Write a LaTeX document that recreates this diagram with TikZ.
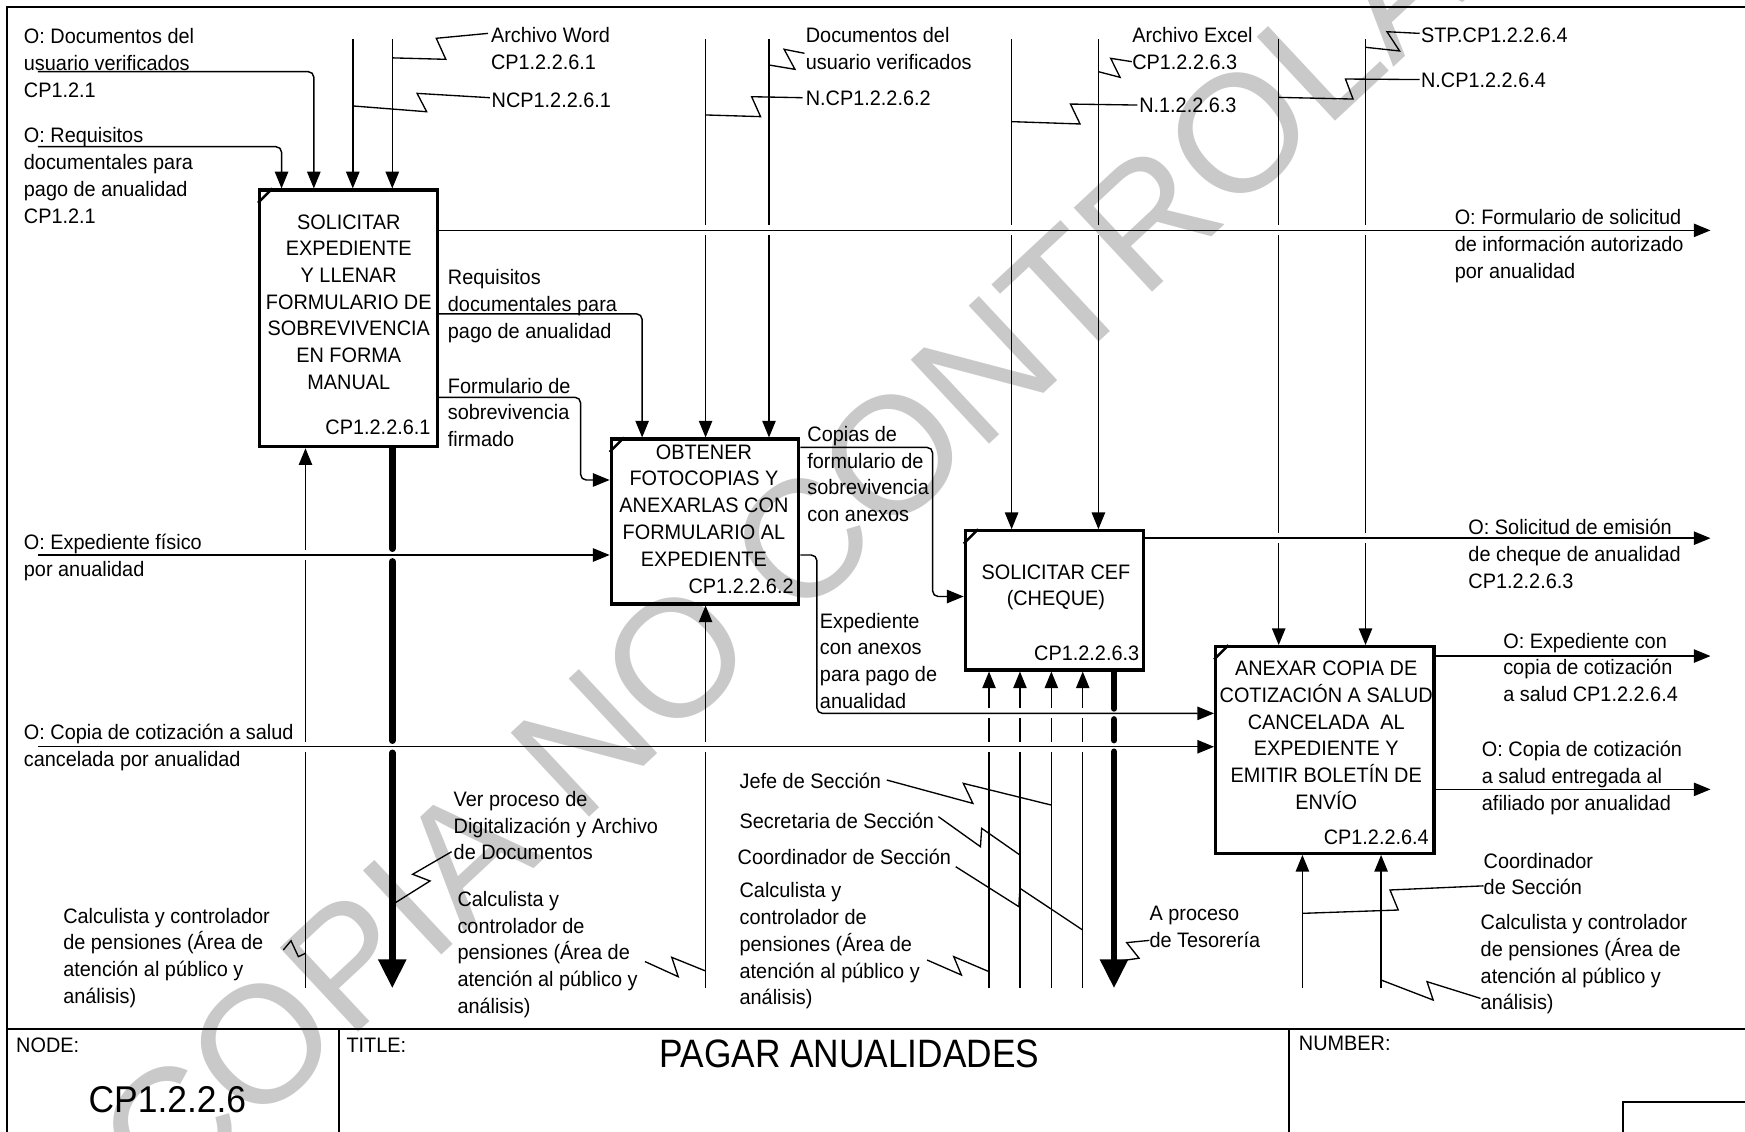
\documentclass[tikz,border=0pt]{standalone}
\usepackage{fontspec}
\setmainfont{Liberation Sans}[FakeStretch=0.95]
\newfontfamily\titlefont{Liberation Sans}[FakeStretch=0.89]
\newfontfamily\wmfont{Liberation Sans}
\usetikzlibrary{arrows.meta}
\newcommand\fs{\fontsize{18.8}{24}\selectfont}
\begin{document}
\begin{tikzpicture}[x=1pt,y=-1pt,
  ln/.style={line width=1.3pt},
  arr/.style={line width=1.3pt,-{Triangle[length=15pt,width=12pt]}},
  rarr/.style={arr, rounded corners=5pt},
  thk/.style={line width=6pt, line cap=round},
  thkarr/.style={line width=6pt, line cap=round, -{Triangle[length=26pt,width=24pt]}},
  box/.style={draw, line width=2.8pt, inner sep=0pt},
  lbl/.style={font=\fs, align=left, inner sep=0pt, anchor=north west},
  ctr/.style={font=\fs, align=center, inner sep=0pt, anchor=north},
  idl/.style={font=\fs, inner sep=0pt, anchor=north east},
  sq/.style={line width=1.2pt},
  frm/.style={line width=1.7pt},
]
\useasboundingbox (0,0) rectangle (1568,1017);
\clip (0,0) rectangle (1568,1017);
\fill[white] (0,0) rectangle (1568,1017);

% watermark
\node[rotate=43, text=black!21, font=\wmfont\fontsize{150}{150}\selectfont, inner sep=0pt] (wm) at (778,432) {COPIA NO CONTROLADA};

% frame
\draw[frm] (6.3,1030) -- (6.3,6.3) -- (1580,6.3);
\draw[frm] (6.3,925) -- (1580,925);
\draw[frm] (304.3,925) -- (304.3,1030);
\draw[frm] (1158,925) -- (1158,1030);
\draw[frm] (1458,1030) |- (1580,990);

% boxes
\node[box, minimum width=159.8pt, minimum height=230.7pt] (b1) at (313.1,286.05) {};
\node[box, minimum width=168.5pt, minimum height=148.2pt] (b2) at (633.45,468.6) {};
\node[box, minimum width=159.9pt, minimum height=125.1pt] (b3) at (947.25,539.45) {};
\node[box, minimum width=196.2pt, minimum height=185.8pt] (b4) at (1190.4,673.9) {};
\foreach \b in {b1,b2,b3,b4}
  \draw[line width=2.2pt] ([yshift=-13pt]\b.north west) -- ([xshift=13pt]\b.north west);

% box texts
\node[ctr] (bt1) at (313.4,192.5) {SOLICITAR\\EXPEDIENTE\\Y LLENAR\\FORMULARIO DE\\SOBREVIVENCIA\\EN FORMA\\MANUAL};
\node[idl] (id1) at (387,376.8) {CP1.2.2.6.1};
\node[ctr] (bt2) at (632.5,399.3) {OBTENER\\FOTOCOPIAS Y\\ANEXARLAS CON\\FORMULARIO AL\\EXPEDIENTE};
\node[idl] (id2) at (713.3,520) {CP1.2.2.6.2};
\node[ctr] (bt3) at (948.8,507) {SOLICITAR CEF\\(CHEQUE)};
\node[idl] (id3) at (1023.8,580.4) {CP1.2.2.6.3};
\node[ctr] (bt4) at (1191.7,593.9) {ANEXAR COPIA DE\\COTIZACIÓN A SALUD\\CANCELADA\ \ AL\\EXPEDIENTE Y\\EMITIR BOLETÍN DE\\ENVÍO};
\node[idl] (id4) at (1284,745.2) {CP1.2.2.6.4};

% top controls
\draw[arr] (317,35) -- (317,0 |- b1.north);
\draw[arr] (352.5,35) -- (352.5,0 |- b1.north);
\foreach \x in {634,691} {
  \draw[ln] (\x,35) -- (\x,202.5);
  \draw[arr] (\x,211.5) -- (\x,0 |- b2.north);
}
\foreach \x in {909,987} {
  \draw[ln] (\x,35) -- (\x,202.5);
  \draw[arr] (\x,211.5) -- (\x,0 |- b3.north);
}
\foreach \x in {1149,1227} {
  \draw[ln] (\x,35) -- (\x,202.5);
  \draw[ln] (\x,211.5) -- (\x,479.1);
  \draw[arr] (\x,488.1) -- (\x,0 |- b4.north);
}

% left inputs turning down into box 1
\draw[rarr] (34,64.4) -- (282,64.4) -- (282,0 |- b1.north);
\draw[rarr] (34,131.8) -- (253,131.8) -- (253,0 |- b1.north);

% mechanisms
\draw[ln] (274.5,888) -- (274.5,675.5);
\draw[ln] (274.5,666.5) -- (274.5,503.2);
\draw[arr] (274.5,494.2) -- (274.5,0 |- b1.south);
\draw[ln] (634,888) -- (634,675.5);
\draw[arr] (634,666.5) -- (634,0 |- b2.south);
\foreach \x in {888.7,916.5,944.7,972.9} {
  \draw[ln] (\x,888) -- (\x,675.5);
  \draw[ln] (\x,666.5) -- (\x,645.5);
  \draw[arr] (\x,636.5) -- (\x,0 |- b3.south);
}
\draw[arr] (1170.3,888) -- (1170.3,0 |- b4.south);
\draw[arr] (1241,888) -- (1241,0 |- b4.south);

% thick outputs
\draw[thk] (352.5,0 |- b1.south) -- (352.5,493);
\draw[thk] (352.5,504.5) -- (352.5,665.5);
\draw[thkarr] (352.5,676.5) -- (352.5,888);
\draw[thk] (1001,0 |- b3.south) -- (1001,636.5);
\draw[thk] (1001,646.5) -- (1001,665);
\draw[thkarr] (1001,675.5) -- (1001,888);

% horizontal flows
\draw[arr] (b1.east |- 0,207) -- (1537,207);
\draw[rarr] (b1.east |- 0,282) -- (577,282) -- (577,0 |- b2.north);
\draw[rarr] (b1.east |- 0,357) -- (521.7,357) -- (521.7,431.3) -- (b2.west |- 0,431.3);
\draw[arr] (34,498.7) -- (b2.west |- 0,498.7);
\draw[rarr] (b2.east |- 0,402) -- (838,402) -- (838,536) -- (b3.west |- 0,536);
\draw[rarr] (b2.east |- 0,498.7) -- (734,498.7) -- (734,641) -- (b4.west |- 0,641);
\draw[arr] (b3.east |- 0,483.6) -- (1537,483.6);
\draw[arr] (34,671) -- (b4.west |- 0,671);
\draw[arr] (b4.east |- 0,589.5) -- (1537,589.5);
\draw[arr] (b4.east |- 0,709.3) -- (1537,709.3);

% squiggles
\draw[sq] (352.5,52) -- (400.6,53.3) -- (392,34.4) -- (438.5,30);
\draw[sq] (317,95.2) -- (383.4,100.4) -- (374.8,83.9) -- (440.2,87.8);
\draw[sq] (691,58.4) -- (714.3,62.3) -- (704.6,44.3) -- (722.9,47.9);
\draw[sq] (634,103.3) -- (683.4,104.8) -- (675.4,86.9) -- (721.2,87.8);
\draw[sq] (987,64.4) -- (1006.5,69.5) -- (998,52.4) -- (1017,55.4);
\draw[sq] (909,109.3) -- (970.5,111.4) -- (961.9,93.5) -- (1022,94.4);
\draw[sq] (1227,42.5) -- (1257.6,45.8) -- (1246.3,28.5) -- (1275.7,30);
\draw[sq] (1149,87.5) -- (1215.8,89) -- (1209,71) -- (1275.7,71.5);
\draw[sq] (254.6,853.6) -- (261.5,845.3) -- (268.1,859.6) -- (274.5,856.6);
\draw[sq] (405.8,765.3) -- (370.8,785.6) -- (386.4,791.6) -- (355.5,811);
\draw[sq] (579.5,864) -- (609.4,877.6) -- (603.6,860.2) -- (634,872.5);
\draw[sq] (796.8,700.9) -- (874.2,721.9) -- (865.6,703.9) -- (944.7,723.4);
\draw[sq] (843.2,733.8) -- (881,760.8) -- (882.1,744.3) -- (916.5,768.3);
\draw[sq] (858.8,778.8) -- (915.5,814.7) -- (916.5,798.2) -- (972.9,835.7);
\draw[sq] (833,862.6) -- (863.9,876.1) -- (857,859.6) -- (888.7,873.1);
\draw[sq] (1032.8,845) -- (1012.4,847) -- (1023.5,861) -- (1003,864);
\draw[sq] (1333,796) -- (1249,799.7) -- (1256.4,817.7) -- (1170.3,820.7);
\draw[sq] (1241,880.6) -- (1287.8,898.6) -- (1282.3,882.1) -- (1330.3,897.1);

% labels
\node[lbl] (t1) at (21.3,25.5) {O: Documentos del\\usuario verificados\\CP1.2.1};
\node[lbl] (t2) at (21.3,114.6) {O: Requisitos\\documentales para\\pago de anualidad\\CP1.2.1};
\node[lbl] (t3) at (441,24.8) {Archivo Word\\CP1.2.2.6.1};
\node[lbl] (t4) at (441.6,83.2) {NCP1.2.2.6.1};
\node[lbl] (t5) at (723.9,24.8) {Documentos del\\usuario verificados};
\node[lbl] (t6) at (723.9,81.7) {N.CP1.2.2.6.2};
\node[lbl] (t7) at (1017.2,24.8) {Archivo Excel\\CP1.2.2.6.3};
\node[lbl] (t8) at (1023.5,87.7) {N.1.2.2.6.3};
\node[lbl] (t9) at (1276.7,24.8) {STP.CP1.2.2.6.4};
\node[lbl] (t10) at (1276.7,65.2) {N.CP1.2.2.6.4};
\node[lbl] (t11) at (1307,188) {O: Formulario de solicitud\\de información autorizado\\por anualidad};
\node[lbl] (t12) at (402.3,242) {Requisitos\\documentales para\\pago de anualidad};
\node[lbl] (t13) at (402.3,339.4) {Formulario de\\sobrevivencia\\firmado};
\node[lbl] (t14) at (725.3,382.8) {Copias de\\formulario de\\sobrevivencia\\con anexos};
\node[lbl] (t15) at (21.3,480) {O: Expediente físico\\por anualidad};
\node[lbl] (t16) at (736.6,550.5) {Expediente\\con anexos\\para pago de\\anualidad};
\node[lbl] (t17) at (1319.3,466.6) {O: Solicitud de emisión\\de cheque de anualidad\\CP1.2.2.6.3};
\node[lbl] (t18) at (1350.6,568.5) {O: Expediente con\\copia de cotización\\a salud CP1.2.2.6.4};
\node[lbl] (t19) at (21.3,650.8) {O: Copia de cotización a salud\\cancelada por anualidad};
\node[lbl] (t20) at (1331.4,665.8) {O: Copia de cotización\\a salud entregada al\\afiliado por anualidad};
\node[lbl] (t21) at (664.4,694.3) {Jefe de Sección};
\node[lbl] (t22) at (664.4,730.2) {Secretaria de Sección};
\node[lbl] (t23) at (662.7,762.6) {Coordinador de Sección};
\node[lbl] (t24) at (664.4,793) {Calculista y\\controlador de\\pensiones (Área de\\atención al público y\\análisis)};
\node[lbl] (t25) at (407.5,710.8) {Ver proceso de\\Digitalización y Archivo\\de Documentos};
\node[lbl] (t26) at (410.9,800.6) {Calculista y\\controlador de\\pensiones (Área de\\atención al público y\\análisis)};
\node[lbl] (t27) at (56.7,815.6) {Calculista y controlador\\de pensiones (Área de\\atención al público y\\análisis)};
\node[lbl] (t28) at (1032.8,814) {A proceso\\de Tesorería};
\node[lbl] (t29) at (1333,766.2) {Coordinador\\de Sección};
\node[lbl] (t30) at (1330.3,821.6) {Calculista y controlador\\de pensiones (Área de\\atención al público y\\análisis)};

% footer
\node[lbl] (f1) at (14.4,932.4) {NODE:};
\node[lbl] (f2) at (311.2,932.4) {TITLE:};
\node[lbl] (f3) at (1167,930.9) {NUMBER:};
\node[inner sep=0pt, font=\titlefont\fontsize{35.6}{40}\selectfont] (f4) at (763.3,947.2) {PAGAR ANUALIDADES};
\node[inner sep=0pt, font=\fontsize{33.5}{38}\selectfont] (f5) at (150.4,988.4) {CP1.2.2.6};
\end{tikzpicture}
\end{document}
